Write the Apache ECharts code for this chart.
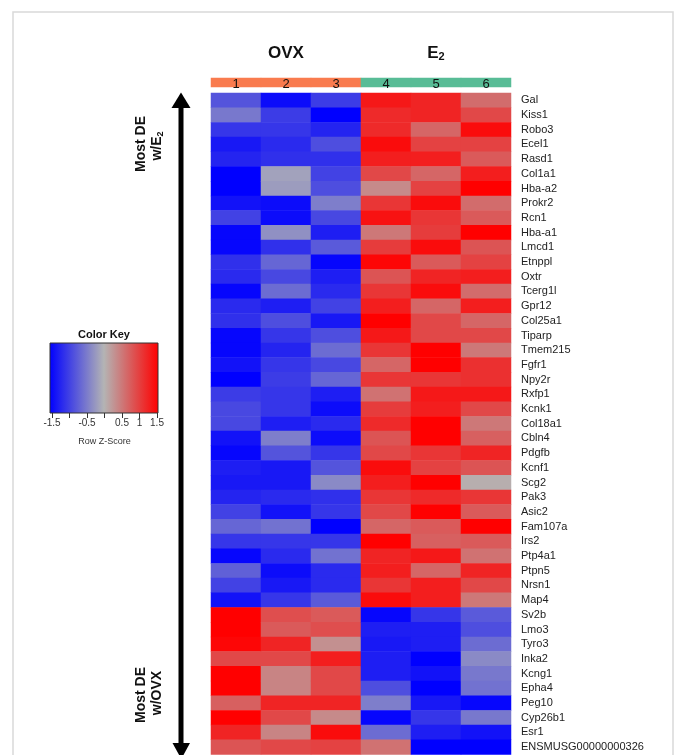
<!DOCTYPE html>
<html>
<head>
<meta charset="utf-8">
<script src="https://cdn.jsdelivr.net/npm/echarts@6/dist/echarts.min.js"></script>
<style>
html,body{margin:0;padding:0;background:#fff;}
#chart{width:680px;height:755px;}
</style>
</head>
<body>
<div id="chart"></div>
<script>
// ---------- data ----------
var sampleLabels = ['1', '2', '3', '4', '5', '6'];
var sampleGroups = ['OVX', 'OVX', 'OVX', 'E2', 'E2', 'E2'];
var genes = ['Gal','Kiss1','Robo3','Ecel1','Rasd1','Col1a1','Hba-a2','Prokr2','Rcn1','Hba-a1',
  'Lmcd1','Etnppl','Oxtr','Tcerg1l','Gpr12','Col25a1','Tiparp','Tmem215','Fgfr1','Npy2r',
  'Rxfp1','Kcnk1','Col18a1','Cbln4','Pdgfb','Kcnf1','Scg2','Pak3','Asic2','Fam107a',
  'Irs2','Ptp4a1','Ptpn5','Nrsn1','Map4','Sv2b','Lmo3','Tyro3','Inka2','Kcng1',
  'Epha4','Peg10','Cyp26b1','Esr1','ENSMUSG00000000326'];
// Row z-scores, one array per sample column
var s1 = [-0.8,-0.5,-1.05,-1.3,-1.2,-1.5,-1.5,-1.35,-0.95,-1.45,-1.45,-1.1,-1.15,-1.45,-1.15,-1.1,-1.45,-1.45,-1.35,-1.5,-1.0,-0.9,-0.9,-1.35,-1.45,-1.25,-1.3,-1.2,-0.95,-0.65,-1.05,-1.45,-0.7,-0.95,-1.35,1.5,1.5,1.45,0.9,1.5,1.5,0.7,1.5,1.2,0.8];
var s2 = [-1.4,-1.0,-1.05,-1.15,-1.1,-0.15,-0.2,-1.4,-1.4,-0.3,-1.1,-0.65,-0.9,-0.6,-1.25,-0.85,-1.05,-1.2,-1.05,-1.0,-1.05,-1.05,-1.25,-0.45,-0.8,-1.3,-1.3,-1.15,-1.35,-0.55,-1.05,-1.15,-1.4,-1.3,-1.05,0.85,0.75,1.2,0.9,0.4,0.4,1.2,0.9,0.4,0.9];
var s3 = [-1.0,-1.5,-1.2,-0.85,-1.1,-0.95,-0.85,-0.45,-0.9,-1.25,-0.75,-1.45,-1.25,-1.15,-0.95,-1.3,-0.85,-0.6,-0.9,-0.65,-1.25,-1.4,-1.15,-1.4,-1.05,-0.8,-0.35,-1.1,-1.05,-1.5,-1.05,-0.55,-1.15,-1.15,-0.75,0.75,0.85,0.3,1.25,0.9,0.9,1.2,0.35,1.4,0.95];
var s4 = [1.3,1.15,1.15,1.4,1.25,0.9,0.35,1.05,1.35,0.5,1.0,1.45,0.8,1.05,1.25,1.5,1.3,1.05,0.65,1.05,0.55,1.0,1.15,0.8,0.9,1.4,1.25,1.05,0.9,0.65,1.5,1.2,1.25,1.05,1.4,-1.45,-1.25,-1.3,-1.25,-1.25,-0.85,-0.45,-1.45,-0.6,0.55];
var s5 = [1.2,1.2,0.65,0.95,1.25,0.65,0.95,1.4,1.05,1.0,1.4,0.75,1.2,1.4,0.65,0.9,0.9,1.5,1.5,1.05,1.3,1.25,1.5,1.5,1.05,0.95,1.5,1.15,1.5,0.75,0.7,1.3,0.65,1.25,1.25,-1.05,-1.25,-1.25,-1.5,-1.35,-1.5,-1.3,-1.05,-1.25,-1.5];
var s6 = [0.6,0.9,1.4,0.95,0.75,1.25,1.5,0.6,0.75,1.5,0.8,0.95,1.25,0.6,1.25,0.65,0.9,0.5,1.1,1.1,1.3,0.9,0.5,0.7,1.2,0.8,0.05,1.05,0.75,1.5,0.75,0.55,1.2,0.9,0.5,-0.75,-0.85,-0.6,-0.35,-0.5,-0.55,-1.45,-0.5,-1.35,-1.5];
var keyTicks = [-1.5, -1, -0.5, 0, 0.5, 1, 1.5];
var keyLabels = ['-1.5', '', '-0.5', '', '0.5', '1', '1.5'];

// ---------- build ----------
var FONT = 'Liberation Sans, Arial, sans-serif';
var columns = [s1, s2, s3, s4, s5, s6];
var cells = [];
columns.forEach(function (col, ci) {
  col.forEach(function (v, ri) { cells.push([ci, ri, v]); });
});
var groupColor = { OVX: '#F97B4E', E2: '#58BC96' };
var headerCells = sampleGroups.map(function (g, i) {
  return { value: [i, 0, i], itemStyle: { color: groupColor[g] } };
});

var gridLeft = 211, gridW = 300, gridTop = 93, rowH = 14.7;
var chart = echarts.init(document.getElementById('chart'), null, { renderer: 'canvas' });
var option = {
  backgroundColor: '#ffffff',
  animation: false,
  textStyle: { fontFamily: FONT },
  grid: [
    { left: gridLeft, top: gridTop, width: gridW, height: rowH * genes.length },
    { left: gridLeft, top: 78, width: gridW, height: 9 },
    { left: 52, top: 343, width: 105, height: 70 }
  ],
  xAxis: [
    { type: 'category', gridIndex: 0, data: sampleLabels, show: false },
    { type: 'category', gridIndex: 1, data: sampleLabels, show: false },
    { type: 'value', gridIndex: 2, min: -1.5, max: 1.5, interval: 0.5,
      axisLine: { show: false }, splitLine: { show: false },
      axisTick: { show: true, length: 5, lineStyle: { color: '#333', width: 1 } },
      axisLabel: { margin: 5, fontSize: 10, color: '#333', fontFamily: FONT,
        formatter: function (v) { var i = keyTicks.indexOf(v); return i >= 0 ? keyLabels[i] : ''; } },
      name: 'Row Z-Score', nameLocation: 'middle', nameGap: 24,
      nameTextStyle: { fontSize: 9, color: '#333', fontFamily: FONT }
    }
  ],
  yAxis: [
    { type: 'category', gridIndex: 0, data: genes, inverse: true, position: 'right',
      axisLine: { show: false }, axisTick: { show: false },
      axisLabel: { margin: 10, fontSize: 11, color: '#222', fontFamily: FONT, interval: 0 } },
    { type: 'category', gridIndex: 1, data: [''], show: false },
    { type: 'value', gridIndex: 2, min: 0, max: 1, show: false }
  ],
  visualMap: {
    show: false, seriesIndex: 0, dimension: 2, min: -1.5, max: 1.5,
    inRange: { color: ['#0000FF', '#B4B4B4', '#FF0000'] }
  },
  series: [
    { type: 'heatmap', xAxisIndex: 0, yAxisIndex: 0, data: cells,
      itemStyle: { borderWidth: 0 }, emphasis: { disabled: true } },
    { type: 'heatmap', xAxisIndex: 1, yAxisIndex: 1, data: headerCells,
      label: { show: true, fontSize: 13, color: '#111', fontFamily: FONT, offset: [0, 2],
        formatter: function (p) { return sampleLabels[p.value[0]]; } },
      emphasis: { disabled: true } }
  ],
  graphic: [
    { type: 'rect', shape: { x: 13, y: 12, width: 660, height: 780 }, silent: true,
      style: { fill: 'none', stroke: '#D9D9D9', lineWidth: 1.5 } },
    // group titles
    { type: 'text', x: 286, y: 53, style: { text: 'OVX', font: 'bold 17px ' + FONT, fill: '#111', align: 'center', verticalAlign: 'middle' } },
    { type: 'text', x: 436, y: 53, style: {
        text: '{a|E}{b|2}', align: 'center', verticalAlign: 'middle',
        rich: { a: { font: 'bold 17px ' + FONT, fill: '#111' },
                b: { font: 'bold 11px ' + FONT, fill: '#111', padding: [8, 0, 0, 0] } } } },
    // arrow
    { type: 'line', shape: { x1: 181, y1: 106, x2: 181, y2: 745 }, style: { stroke: '#000', lineWidth: 5 } },
    { type: 'polygon', shape: { points: [[171.5, 108], [190.5, 108], [181, 92.5]] }, style: { fill: '#000' } },
    { type: 'polygon', shape: { points: [[172.5, 743], [190, 743], [181.3, 759]] }, style: { fill: '#000' } },
    // side labels
    { type: 'text', x: 141, y: 144, rotation: Math.PI / 2, style: { text: 'Most DE', font: 'bold 14px ' + FONT, fill: '#111', align: 'center', verticalAlign: 'middle' } },
    { type: 'text', x: 157, y: 146, rotation: Math.PI / 2, style: {
        text: '{a|w/E}{b|2}', align: 'center', verticalAlign: 'middle',
        rich: { a: { font: 'bold 14px ' + FONT, fill: '#111' },
                b: { font: 'bold 9px ' + FONT, fill: '#111', padding: [7, 0, 0, 0] } } } },
    { type: 'text', x: 141, y: 695, rotation: Math.PI / 2, style: { text: 'Most DE', font: 'bold 14px ' + FONT, fill: '#111', align: 'center', verticalAlign: 'middle' } },
    { type: 'text', x: 157, y: 693, rotation: Math.PI / 2, style: { text: 'w/OVX', font: 'bold 14px ' + FONT, fill: '#111', align: 'center', verticalAlign: 'middle' } },
    // color key
    { type: 'text', x: 104, y: 335, style: { text: 'Color Key', font: 'bold 11px ' + FONT, fill: '#111', align: 'center', verticalAlign: 'middle' } },
    { type: 'rect', shape: { x: 50, y: 343, width: 108, height: 70 },
      style: { stroke: '#333', lineWidth: 1,
        fill: new echarts.graphic.LinearGradient(0, 0, 1, 0, [
          { offset: 0, color: '#0000FF' }, { offset: 0.5, color: '#B4B4B4' }, { offset: 1, color: '#FF0000' }]) } }
  ]
};
chart.setOption(option);
</script>
</body>
</html>
